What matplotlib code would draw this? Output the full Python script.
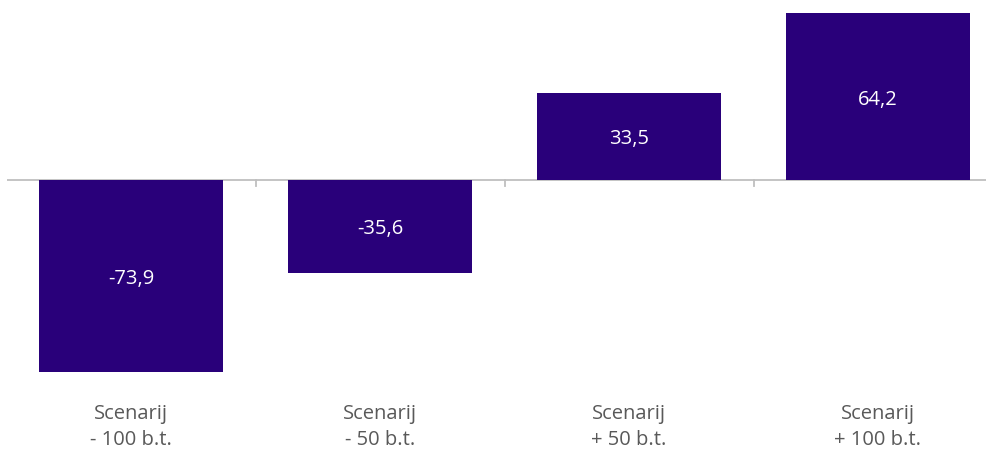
import matplotlib
matplotlib.use("Agg")
import matplotlib.pyplot as plt

categories = ["Scenarij\n- 100 b.t.", "Scenarij\n- 50 b.t.", "Scenarij\n+ 50 b.t.", "Scenarij\n+ 100 b.t."]
values = [-73.9, -35.6, 33.5, 64.2]
value_labels = ["-73,9", "-35,6", "33,5", "64,2"]

BAR = "#29007A"
GRID = "#BFBFBF"
TEXT = "#595959"

plt.rcParams["font.family"] = ["Open Sans", "DejaVu Sans"]

fig = plt.figure(figsize=(9.87, 4.5), dpi=100)
ax = fig.add_axes([6.5 / 987, 1 - 380 / 450, 996 / 987, 375 / 450])

x = range(len(values))
ax.bar(x, values, width=0.74, color=BAR, zorder=2)
ax.set_xlim(-0.5, 3.5)
ax.set_ylim(-(380 - 180) / 2.6, (180 - 5) / 2.6)

ax.axhline(0, color=GRID, lw=1.3, zorder=1)
for b in (0.5, 1.5, 2.5):
    ax.plot([b, b], [0, -6 / 2.6], color=GRID, lw=1.3, zorder=1, clip_on=False)

# value labels sit slightly below the bar middle
for xi, v, lab in zip(x, values, value_labels):
    ax.text(xi, v / 2 - 3 / 2.6, lab, ha="center", va="center", color="white", fontsize=14.5)

for xi, cat in zip(x, categories):
    ax.text(xi, -(427 - 180) / 2.6, cat, ha="center", va="center",
            color=TEXT, fontsize=14.5, linespacing=1.36)

ax.set_axis_off()
fig.savefig("out.png", dpi=100)
